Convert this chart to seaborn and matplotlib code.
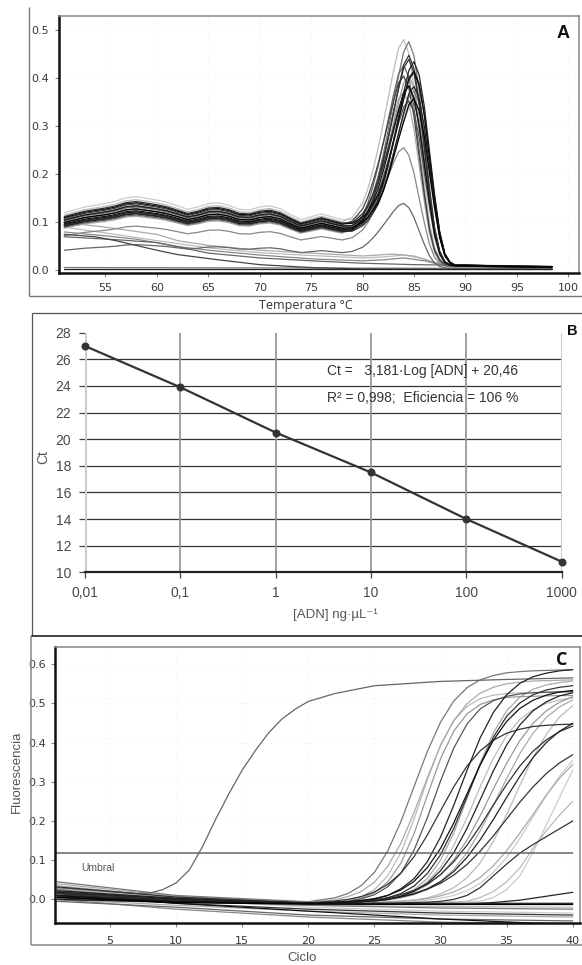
import numpy as np
import pandas as pd
import matplotlib
matplotlib.use("Agg")
import matplotlib.pyplot as plt
from matplotlib.lines import Line2D
import seaborn as sns

# ======================= DATA =======================
# ---- Panel A: melting curves (-dF/dT vs temperature) ----
TEMP = [51, 52, 53, 54, 55, 56, 57, 58, 59, 60, 61, 62, 63, 64, 65, 66, 67, 68, 69, 70,
        71, 72, 73, 74, 75, 76, 77, 78, 79, 80, 80.5, 81, 81.5, 82, 82.5, 83, 83.5, 84,
        84.5, 85, 85.5, 86, 86.5, 87, 87.5, 88, 88.5, 89, 90, 92, 95, 98.4]
BASE_A = [0.100, 0.105, 0.110, 0.113, 0.116, 0.120, 0.126, 0.128, 0.125, 0.122, 0.118,
          0.112, 0.106, 0.110, 0.116, 0.117, 0.113, 0.106, 0.105, 0.110, 0.112, 0.107,
          0.097, 0.088, 0.093, 0.098, 0.093, 0.088, 0.089, 0.094, 0.098, 0.100, 0.098,
          0.095, 0.090, 0.085, 0.078, 0.070, 0.062, 0.053, 0.044, 0.036, 0.028, 0.021,
          0.016, 0.012, 0.011, 0.010, 0.010, 0.009, 0.008, 0.007]
# peak shapes (normalised), defined from 79 °C onwards
PEAK_LEFT = [0.02, 0.08, 0.14, 0.23, 0.35, 0.49, 0.64, 0.79, 0.93, 1.00, 0.95, 0.80,
             0.58, 0.36, 0.17, 0.06, 0.015, 0.0, 0.0, 0.0, 0.0, 0.0, 0.0, 0.0]
PEAK_CENTER = [0.0, 0.04, 0.08, 0.14, 0.23, 0.35, 0.49, 0.64, 0.79, 0.93, 1.00, 0.95,
               0.80, 0.58, 0.36, 0.17, 0.06, 0.015, 0.0, 0.0, 0.0, 0.0, 0.0, 0.0]
PEAK_RIGHT = [0.0, 0.02, 0.04, 0.08, 0.14, 0.23, 0.35, 0.49, 0.64, 0.79, 0.93, 1.00,
              0.95, 0.80, 0.58, 0.36, 0.17, 0.06, 0.015, 0.0, 0.0, 0.0, 0.0, 0.0]
MELT_SCALE = [1.00, 1.15, 0.95, 1.05, 0.90, 1.10, 1.00, 0.92, 1.08, 0.97, 1.03, 1.12,
              0.88, 1.00, 0.95, 1.20, 1.05, 0.93, 0.72, 0.42]
MELT_HEIGHT = [0.414, 0.400, 0.384, 0.374, 0.364, 0.354, 0.344, 0.334, 0.329, 0.324,
               0.319, 0.314, 0.309, 0.304, 0.294, 0.284, 0.360, 0.390, 0.205, 0.110]
MELT_PEAK = ["C", "L", "R", "C", "L", "R", "C", "R", "L", "C",
             "R", "C", "L", "R", "C", "R", "R", "C", "L", "L"]
MELT_COLOR = ["#777777", "#bbbbbb", "#222222", "#333333", "#666666", "#111111",
              "#999999", "#222222", "#444444", "#111111", "#777777", "#333333",
              "#aaaaaa", "#000000", "#555555", "#cccccc", "#222222", "#333333",
              "#888888", "#666666"]
# curves without a melting peak
LOW_T = [[51, 54, 56, 58, 60, 62, 66, 70, 75, 80, 88, 98.4],
         [51, 55, 58, 62, 65, 70, 75, 80, 82, 84, 86, 88, 98.4],
         [51, 55, 60, 65, 70, 75, 80, 82, 84, 86, 88, 98.4],
         [51, 55, 60, 62, 65, 70, 75, 80, 83, 85, 87, 90, 98.4],
         [51, 56, 60, 65, 70, 75, 80, 85, 98.4],
         [51, 98.4],
         [51, 75, 98.4]]
LOW_F = [[0.075, 0.070, 0.062, 0.052, 0.042, 0.033, 0.022, 0.012, 0.006, 0.003, 0.002, 0.002],
         [0.080, 0.072, 0.065, 0.050, 0.042, 0.032, 0.024, 0.020, 0.022, 0.026, 0.020, 0.010, 0.008],
         [0.090, 0.078, 0.062, 0.047, 0.037, 0.031, 0.026, 0.028, 0.032, 0.024, 0.010, 0.008],
         [0.100, 0.090, 0.075, 0.062, 0.052, 0.042, 0.036, 0.030, 0.034, 0.030, 0.016, 0.010, 0.008],
         [0.070, 0.064, 0.058, 0.036, 0.026, 0.020, 0.015, 0.012, 0.008],
         [0.003, 0.003],
         [0.006, 0.005, 0.004]]
LOW_COLOR = ["#444444", "#888888", "#bbbbbb", "#aaaaaa", "#666666", "#222222", "#777777"]
A_XTICKS = [55, 60, 65, 70, 75, 80, 85, 90, 95, 100]
A_YTICKS = [0.0, 0.1, 0.2, 0.3, 0.4, 0.5]

# ---- Panel B: standard curve ----
ADN = [0.01, 0.1, 1, 10, 100, 1000]
CT = [27.0, 23.9, 20.5, 17.5, 14.0, 10.8]
B_XLABELS = ["0,01", "0,1", "1", "10", "100", "1000"]
B_YTICKS = [10, 12, 14, 16, 18, 20, 22, 24, 26, 28]
EQ_LINE1 = "Ct =   3,181\u00b7Log [ADN] + 20,46"
EQ_LINE2 = "R\u00b2 = 0,998;  Eficiencia = 106 %"

# ---- Panel C: amplification curves ----
CYCLES = [1, 10, 20, 22, 23, 24, 25, 26, 27, 28, 29, 30, 31, 32, 33, 34, 35, 36, 37, 38, 39, 40]
AMP = [
    [0.045, 0.010, -0.006, 0.004, 0.015, 0.035, 0.069, 0.123, 0.198, 0.288, 0.377, 0.452, 0.506, 0.540, 0.560, 0.571, 0.578, 0.581, 0.583, 0.584, 0.585, 0.586],
    [0.035, 0.005, -0.008, -0.001, 0.007, 0.020, 0.044, 0.084, 0.143, 0.222, 0.310, 0.392, 0.456, 0.499, 0.526, 0.541, 0.550, 0.554, 0.557, 0.558, 0.559, 0.560],
    [0.030, 0.005, -0.008, -0.006, -0.002, 0.007, 0.025, 0.060, 0.119, 0.205, 0.305, 0.394, 0.456, 0.492, 0.512, 0.521, 0.525, 0.527, 0.528, 0.529, 0.530, 0.530],
    [0.025, 0.000, -0.009, -0.007, -0.004, 0.003, 0.017, 0.044, 0.092, 0.168, 0.265, 0.359, 0.429, 0.473, 0.497, 0.509, 0.515, 0.517, 0.518, 0.519, 0.520, 0.520],
    [0.020, 0.000, -0.009, -0.007, -0.005, 0.001, 0.012, 0.032, 0.067, 0.126, 0.208, 0.302, 0.386, 0.447, 0.486, 0.507, 0.518, 0.524, 0.527, 0.528, 0.529, 0.530],
    [0.015, 0.000, -0.009, -0.004, 0.000, 0.007, 0.019, 0.038, 0.067, 0.109, 0.164, 0.226, 0.287, 0.340, 0.379, 0.406, 0.424, 0.434, 0.441, 0.444, 0.446, 0.447],
    [0.010, -0.005, -0.010, -0.008, -0.006, -0.003, 0.001, 0.010, 0.027, 0.053, 0.096, 0.159, 0.240, 0.329, 0.412, 0.477, 0.522, 0.551, 0.568, 0.577, 0.583, 0.586],
    [0.005, -0.005, -0.010, -0.008, -0.006, -0.003, 0.002, 0.010, 0.024, 0.046, 0.081, 0.130, 0.195, 0.269, 0.343, 0.406, 0.454, 0.487, 0.508, 0.521, 0.529, 0.533],
    [0.000, -0.008, -0.011, -0.009, -0.008, -0.006, -0.002, 0.004, 0.015, 0.034, 0.066, 0.114, 0.181, 0.262, 0.344, 0.414, 0.467, 0.501, 0.522, 0.534, 0.541, 0.545],
    [0.040, 0.008, -0.009, -0.009, -0.008, -0.007, -0.005, 0.000, 0.009, 0.025, 0.053, 0.100, 0.169, 0.257, 0.347, 0.425, 0.481, 0.516, 0.536, 0.547, 0.553, 0.557],
    [0.028, 0.004, -0.010, -0.009, -0.008, -0.007, -0.005, 0.000, 0.008, 0.022, 0.045, 0.082, 0.137, 0.208, 0.287, 0.360, 0.418, 0.459, 0.484, 0.500, 0.509, 0.514],
    [0.018, 0.002, -0.010, -0.009, -0.008, -0.006, -0.004, 0.000, 0.008, 0.021, 0.041, 0.073, 0.119, 0.181, 0.254, 0.328, 0.394, 0.445, 0.481, 0.504, 0.519, 0.527],
    [0.012, 0.000, -0.010, -0.007, -0.007, -0.006, -0.003, 0.001, 0.008, 0.019, 0.037, 0.063, 0.101, 0.151, 0.213, 0.282, 0.347, 0.405, 0.449, 0.481, 0.503, 0.517],
    [0.008, -0.002, -0.010, -0.008, -0.006, -0.004, -0.001, 0.004, 0.012, 0.023, 0.039, 0.063, 0.096, 0.138, 0.187, 0.241, 0.293, 0.340, 0.378, 0.407, 0.428, 0.442],
    [0.003, -0.004, -0.011, -0.009, -0.008, -0.007, -0.005, -0.002, 0.004, 0.012, 0.025, 0.046, 0.076, 0.119, 0.175, 0.240, 0.308, 0.372, 0.424, 0.464, 0.491, 0.509],
    [0.022, 0.003, -0.010, -0.008, -0.007, -0.006, -0.004, 0.000, 0.006, 0.014, 0.027, 0.045, 0.071, 0.107, 0.152, 0.204, 0.260, 0.314, 0.362, 0.400, 0.429, 0.449],
    [0.032, 0.006, -0.009, -0.007, -0.006, -0.005, -0.002, 0.002, 0.007, 0.015, 0.026, 0.041, 0.062, 0.089, 0.123, 0.162, 0.205, 0.248, 0.287, 0.321, 0.348, 0.369],
    [0.014, 0.000, -0.010, -0.010, -0.009, -0.009, -0.008, -0.007, -0.005, -0.002, 0.004, 0.014, 0.030, 0.055, 0.093, 0.148, 0.216, 0.291, 0.362, 0.421, 0.465, 0.494],
    [0.006, -0.003, -0.011, -0.010, -0.010, -0.009, -0.008, -0.006, -0.004, -0.002, 0.002, 0.009, 0.019, 0.035, 0.056, 0.086, 0.124, 0.169, 0.217, 0.266, 0.309, 0.344],
    [0.026, 0.004, -0.010, -0.010, -0.009, -0.009, -0.008, -0.007, -0.006, -0.005, -0.002, 0.003, 0.010, 0.022, 0.041, 0.069, 0.107, 0.155, 0.210, 0.265, 0.314, 0.355],
    [0.016, 0.000, -0.011, -0.011, -0.011, -0.011, -0.010, -0.010, -0.009, -0.008, -0.007, -0.005, 0.000, 0.010, 0.030, 0.060, 0.090, 0.118, 0.140, 0.160, 0.180, 0.200],
    [0.010, -0.002, -0.011, -0.011, -0.011, -0.010, -0.010, -0.010, -0.009, -0.009, -0.008, -0.007, -0.006, -0.005, 0.005, 0.020, 0.045, 0.080, 0.130, 0.175, 0.215, 0.250],
    [0.020, 0.002, -0.010, -0.010, -0.010, -0.010, -0.010, -0.010, -0.009, -0.009, -0.009, -0.008, -0.007, -0.006, -0.005, 0.005, 0.025, 0.060, 0.120, 0.190, 0.260, 0.330],
    [0.000, -0.006, -0.011, -0.011, -0.011, -0.012, -0.012, -0.012, -0.012, -0.012, -0.012, -0.012, -0.012, -0.011, -0.010, -0.008, -0.005, -0.002, 0.003, 0.008, 0.013, 0.018],
]
AMP_COLOR = ["#777777", "#aaaaaa", "#bbbbbb", "#999999", "#555555", "#333333",
             "#222222", "#111111", "#333333", "#aaaaaa", "#bbbbbb", "#222222",
             "#999999", "#333333", "#aaaaaa", "#222222", "#333333", "#bbbbbb",
             "#aaaaaa", "#cccccc", "#333333", "#bbbbbb", "#cccccc", "#222222"]
EARLY_CYC = [1, 3, 5, 7, 8, 9, 10, 11, 12, 13, 14, 15, 16, 17, 18, 19, 20, 22, 25, 30, 35, 40]
EARLY_F = [0.030, 0.025, 0.020, 0.015, 0.016, 0.025, 0.042, 0.075, 0.135, 0.205, 0.270,
           0.330, 0.380, 0.425, 0.460, 0.485, 0.505, 0.525, 0.545, 0.556, 0.561, 0.565]
EARLY_COLOR = "#666666"
FLAT_CYC = [1, 10, 20, 30, 40]
FLAT = [[0.010, 0.000, -0.010, -0.010, -0.010],
        [0.005, -0.008, -0.012, -0.013, -0.013],
        [0.020, -0.005, -0.015, -0.018, -0.020],
        [0.025, -0.005, -0.015, -0.022, -0.025],
        [0.030, 0.000, -0.020, -0.030, -0.035],
        [0.015, -0.010, -0.025, -0.035, -0.040],
        [0.000, -0.015, -0.030, -0.040, -0.045],
        [-0.005, -0.020, -0.040, -0.050, -0.055],
        [0.010, -0.010, -0.030, -0.050, -0.065],
        [0.000, -0.025, -0.045, -0.058, -0.062]]
FLAT_COLOR = ["#222222", "#000000", "#bbbbbb", "#777777", "#cccccc",
              "#333333", "#aaaaaa", "#666666", "#111111", "#888888"]
UMBRAL = 0.119
C_XTICKS = [5, 10, 15, 20, 25, 30, 35, 40]
C_YTICKS = [0.0, 0.1, 0.2, 0.3, 0.4, 0.5, 0.6]

# ======================= FIGURE =======================
W, H = 582, 965
sns.set_theme(style="white")
plt.rcParams["font.family"] = ["DejaVu Sans"]
SANS = ["Liberation Sans", "DejaVu Sans"]
fig = plt.figure(figsize=(W / 100, H / 100), dpi=100)
fig.patch.set_facecolor("white")


def fx(px):
    return px / W


def fy(py):
    return 1 - py / H


def frame_line(x0, y0, x1, y1, color, lw):
    fig.add_artist(Line2D([fx(x0), fx(x1)], [fy(y0), fy(y1)], transform=fig.transFigure,
                          color=color, lw=lw, solid_capstyle="butt"))


def lum(c):
    return int(c[1:3], 16)


def style_box(ax):
    for s in ("left", "bottom"):
        ax.spines[s].set_color("#111111")
        ax.spines[s].set_linewidth(1.8)
    for s in ("top", "right"):
        ax.spines[s].set_color("#888888")
        ax.spines[s].set_linewidth(1.1)
    ax.set_facecolor("white")
    ax.grid(True, color="#e4e4e4", lw=0.6, ls=(0, (1, 5)))


# ---------------- Panel A ----------------
axA = fig.add_axes([fx(58.7), fy(273.3), fx(579.3) - fx(58.7), fy(15.7) - fy(273.3)])
n_pre = len(TEMP) - len(PEAK_CENTER)
peaks = {k: np.concatenate([np.zeros(n_pre), np.array(v)])
         for k, v in (("L", PEAK_LEFT), ("C", PEAK_CENTER), ("R", PEAK_RIGHT))}
frames = []
for i, (s, h, k, c) in enumerate(zip(MELT_SCALE, MELT_HEIGHT, MELT_PEAK, MELT_COLOR)):
    y = s * np.array(BASE_A) + h * peaks[k]
    frames.append(pd.DataFrame({"T": TEMP, "F": y, "curve": f"m{i}", "color": c}))
for i, (t, f, c) in enumerate(zip(LOW_T, LOW_F, LOW_COLOR)):
    frames.append(pd.DataFrame({"T": t, "F": f, "curve": f"l{i}", "color": c}))
dfA = pd.concat(frames, ignore_index=True)
colsA = sorted(dfA["color"].unique(), key=lum, reverse=True)
sns.lineplot(data=dfA, x="T", y="F", units="curve", estimator=None, hue="color",
             hue_order=colsA, palette={c: c for c in colsA}, linewidth=0.9,
             legend=False, sort=False, ax=axA)
axA.set_xlim(50.46, 101.07)
axA.set_ylim(-0.006, 0.530)
axA.set_xticks(A_XTICKS)
axA.set_yticks(A_YTICKS)
axA.set_yticklabels([f"{v:.1f}" for v in A_YTICKS])
style_box(axA)
axA.tick_params(axis="both", length=3, width=0.8, color="#888888", labelsize=8,
                labelcolor="#3a3a3a", pad=4, left=True, bottom=True)
axA.set_xlabel("Temperatura \u00b0C", fontsize=9, color="#333333", family=["Open Sans", "DejaVu Sans"])
axA.set_ylabel("")
axA.xaxis.set_label_coords((306 - 58.7) / 520.6, (273.3 - 306) / 257.6)
axA.xaxis.label.set_va("center")
fig.text(fx(563), fy(33), "A", fontsize=13, fontweight="bold", ha="center", va="center",
         family=SANS, color="#111111")
frame_line(29, 7, 29, 296, "#777777", 1.0)
frame_line(29, 296, 582, 296, "#777777", 1.0)

# ---------------- Panel B ----------------
axB = fig.add_axes([fx(85), fy(572.3), fx(561.7) - fx(85), fy(332.7) - fy(572.3)])
axB.set_xscale("log")
for yv in B_YTICKS[1:-1]:
    axB.axhline(yv, color="#333333", lw=0.9, zorder=1)
for xv in ADN:
    edge = xv in (ADN[0], ADN[-1])
    axB.axvline(xv, color="#cccccc" if edge else "#999999", lw=2.2 if edge else 1.3, zorder=1)
sns.lineplot(x=ADN, y=CT, marker="o", color="#333333", linewidth=1.6, markersize=5,
             markeredgecolor="#333333", ax=axB, zorder=3, clip_on=False)
axB.set_xlim(ADN[0], ADN[-1])
axB.set_ylim(B_YTICKS[0], B_YTICKS[-1])
axB.set_xticks(ADN)
axB.set_xticklabels(B_XLABELS)
axB.minorticks_off()
axB.set_yticks(B_YTICKS)
for s in ("top", "right", "left"):
    axB.spines[s].set_visible(False)
axB.spines["bottom"].set_color("#222222")
axB.spines["bottom"].set_linewidth(1.6)
axB.tick_params(axis="both", length=4, width=0.9, color="#444444", labelsize=10,
                labelcolor="#4a4a4a", left=True, bottom=True)
axB.tick_params(axis="x", pad=6)
axB.tick_params(axis="y", pad=6)
for lab in axB.get_xticklabels() + axB.get_yticklabels():
    lab.set_family(SANS)
axB.grid(False)
axB.set_xlabel("[ADN] ng\u00b7\u00b5L\u207b\u00b9", fontsize=9.5, color="#555555", family=SANS)
axB.set_ylabel("Ct", fontsize=10, color="#555555", family=SANS)
axB.xaxis.set_label_coords((335 - 85) / 476.7, (572.3 - 615) / 239.6)
axB.xaxis.label.set_va("center")
axB.yaxis.set_label_coords((43.3 - 85) / 476.7, (572.3 - 456.7) / 239.6)
axB.yaxis.label.set_va("center")
axB.text((327 - 85) / 476.7, (572.3 - 371.5) / 239.6, EQ_LINE1, transform=axB.transAxes,
         fontsize=10, color="#333333", family=SANS, ha="left", va="center")
axB.text((327 - 85) / 476.7, (572.3 - 398) / 239.6, EQ_LINE2, transform=axB.transAxes,
         fontsize=10, color="#333333", family=SANS, ha="left", va="center")
fig.text(fx(572), fy(331), "B", fontsize=10.5, fontweight="bold", ha="center", va="center",
         family=SANS, color="#111111")
frame_line(31.7, 313.3, 582, 313.3, "#555555", 0.9)
frame_line(31.7, 313.3, 31.7, 636, "#555555", 0.9)

# ---------------- Panel C ----------------
axC = fig.add_axes([fx(55.3), fy(923.3), fx(580) - fx(55.3), fy(647.3) - fy(923.3)])
framesC = []
for i, (vals, c) in enumerate(zip(AMP, AMP_COLOR)):
    framesC.append(pd.DataFrame({"cyc": CYCLES, "F": vals, "curve": f"a{i}", "color": c}))
framesC.append(pd.DataFrame({"cyc": EARLY_CYC, "F": EARLY_F, "curve": "early", "color": EARLY_COLOR}))
for i, (vals, c) in enumerate(zip(FLAT, FLAT_COLOR)):
    framesC.append(pd.DataFrame({"cyc": FLAT_CYC, "F": vals, "curve": f"f{i}", "color": c}))
dfC = pd.concat(framesC, ignore_index=True)
colsC = sorted(dfC["color"].unique(), key=lum, reverse=True)
sns.lineplot(data=dfC, x="cyc", y="F", units="curve", estimator=None, hue="color",
             hue_order=colsC, palette={c: c for c in colsC}, linewidth=0.9,
             legend=False, sort=False, ax=axC)
axC.hlines(UMBRAL, 0.86, CYCLES[-1], color="#666666", lw=1.1)
axC.set_xlim(0.86, 40.55)
axC.set_ylim(-0.061, 0.643)
axC.set_xticks(C_XTICKS)
axC.set_yticks(C_YTICKS)
axC.set_yticklabels([f"{v:.1f}" for v in C_YTICKS])
style_box(axC)
axC.tick_params(axis="both", length=3, width=0.8, color="#888888", labelsize=8,
                labelcolor="#3a3a3a", left=True, bottom=True)
axC.tick_params(axis="x", pad=6.5)
axC.tick_params(axis="y", pad=4)
axC.set_xlabel("Ciclo", fontsize=9.5, color="#555555", family=SANS)
axC.set_ylabel("Fluorescencia", fontsize=9.5, color="#555555", family=SANS)
axC.xaxis.set_label_coords((302 - 55.3) / 524.7, (923.3 - 958) / 276)
axC.xaxis.label.set_va("center")
axC.yaxis.set_label_coords((16.7 - 55.3) / 524.7, (923.3 - 772) / 276)
axC.yaxis.label.set_va("center")
fig.text(fx(81.7), fy(868), "Umbral", fontsize=7.5, color="#555555", ha="left",
         va="center", family=SANS)
fig.text(fx(561.7), fy(660), "C", fontsize=13, fontweight="bold", ha="center",
         va="center", family=["Open Sans", "DejaVu Sans"], color="#111111")
frame_line(31, 636, 582, 636, "#333333", 1.3)
frame_line(31, 636, 31, 945, "#888888", 1.1)
frame_line(31, 945, 582, 945, "#888888", 1.1)

fig.savefig("out.png", dpi=100, facecolor="white")
